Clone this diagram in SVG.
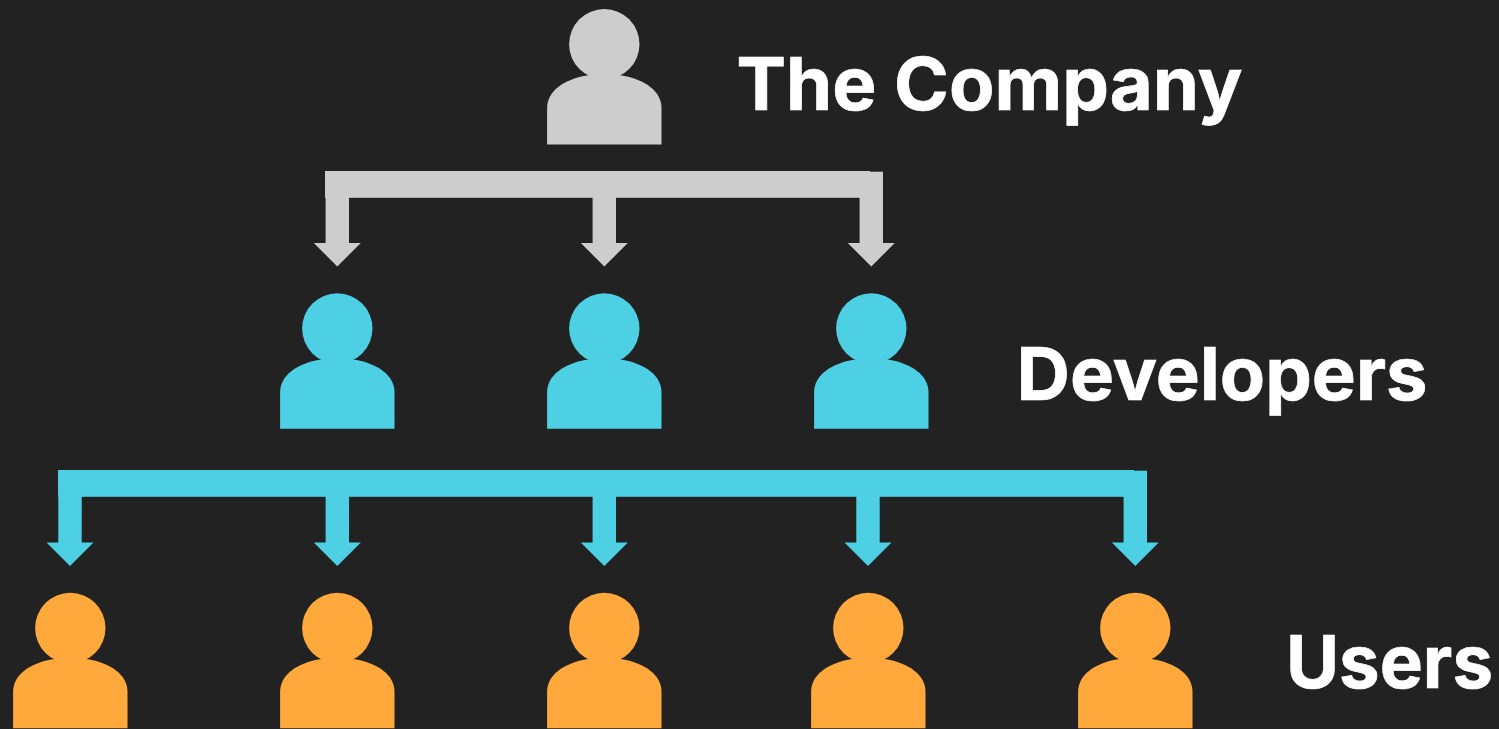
<svg xmlns="http://www.w3.org/2000/svg" width="1499" height="729" viewBox="0 0 1499 729">
<style>
.gray{fill:#cdcdcd}.blue{fill:#4dd0e4}.orange{fill:#ffa93c}
.label{font-family:"Inter","Lato","Liberation Sans",sans-serif;font-weight:700;font-size:73.5px;fill:#fff;stroke:#fff;stroke-width:.7px}
</style>
<defs>
<g id="person">
<circle cx="0" cy="0" r="35.2"/>
<path d="M-57.2 100.2V64C-57.2 47 -41 35 -16 31H16C41 35 57.2 47 57.2 64V100.2Z"/>
</g>
<path id="a" d="M-11.7 -5H11.7V46H23.5L0 69.5L-23.5 46H-11.7Z"/>
</defs>
<rect width="1499" height="729" fill="#222222"/>
<g id="connectors">
<g class="gray">
<rect x="325" y="171" width="545" height="26.8"/>
<rect x="859.5" y="171.7" width="23.500" height="26"/>
<use href="#a" x="337.3" y="197"/>
<use href="#a" x="604.3" y="197"/>
<use href="#a" x="871.3" y="197"/>
</g>
<g class="blue">
<rect x="58" y="470" width="1076" height="26.8"/>
<rect x="1123.500" y="470.700" width="23.500" height="26"/>
<use href="#a" x="70" y="496.500"/>
<use href="#a" x="337.3" y="496.500"/>
<use href="#a" x="604.3" y="496.500"/>
<use href="#a" x="868" y="496.500"/>
<use href="#a" x="1135.3" y="496.500"/>
</g>
</g>
<g id="company" class="gray"><use href="#person" x="604.3" y="44.2"/></g>
<g id="dev1" class="blue"><use href="#person" x="337.3" y="328.500"/></g>
<g id="dev2" class="blue"><use href="#person" x="604.3" y="328.500"/></g>
<g id="dev3" class="blue"><use href="#person" x="871.3" y="328.500"/></g>
<g id="user1" class="orange"><use href="#person" x="70.300" y="628"/></g>
<g id="user2" class="orange"><use href="#person" x="337.3" y="628"/></g>
<g id="user3" class="orange"><use href="#person" x="604.3" y="628"/></g>
<g id="user4" class="orange"><use href="#person" x="868.3" y="628"/></g>
<g id="user5" class="orange"><use href="#person" x="1135.3" y="628"/></g>
<g id="labels">
<text class="label" x="736.500" y="110" textLength="506" lengthAdjust="spacingAndGlyphs">The Company</text>
<text class="label" x="1016.500" y="400" textLength="411" lengthAdjust="spacingAndGlyphs">Developers</text>
<text class="label" x="1286" y="688" textLength="207" lengthAdjust="spacingAndGlyphs">Users</text>
</g>
</svg>
